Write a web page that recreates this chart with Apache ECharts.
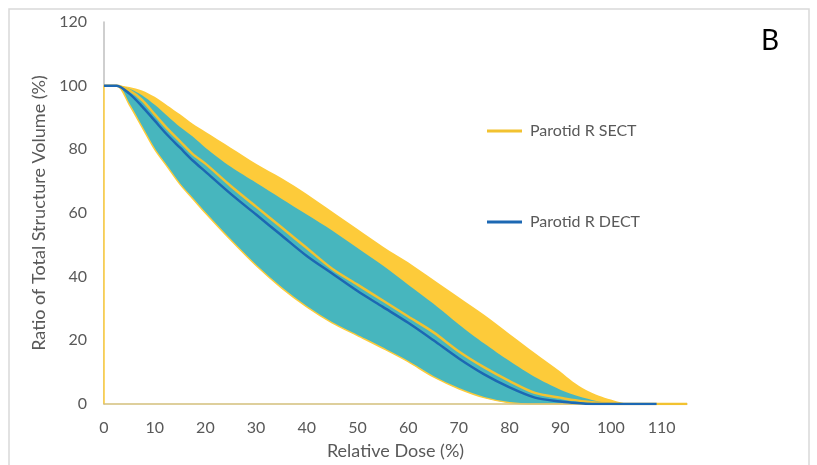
<!DOCTYPE html>
<html>
<head>
<meta charset="utf-8">
<script src="https://cdn.jsdelivr.net/npm/echarts@6/dist/echarts.min.js"></script>
<style>html,body{margin:0;padding:0;background:#fff}#c{width:817px;height:465px}</style>
</head>
<body>
<div id="c"></div>
<script>
// Relative dose (%)
const dose     = [0, 0, 2.5, 5, 7.5, 10, 12.5, 15, 17.5, 20, 25, 30, 35, 40, 45, 50, 55, 60, 65, 70, 75, 80, 85, 90, 92.5, 95, 97.5, 100, 102.5, 105, 109, 115];
// SECT band upper edge
const sectMax  = [100, 100, 100, 99.6, 98.5, 96.5, 93.8, 91, 88, 85.5, 80.5, 75.5, 71, 66, 60.5, 55, 49.5, 44.5, 39, 33.5, 28, 22, 16, 10.2, 7, 4.5, 2.7, 1.4, 0.3, 0, 0, 0];
// DECT band upper edge
const dectMax  = [100, 100, 100, 99, 97, 94, 90.5, 87, 84, 80.5, 74.5, 69.5, 64.5, 59.5, 54.5, 49, 43.5, 37.5, 31.5, 25, 19, 13.5, 8.5, 4.5, 3, 1.8, 0.8, 0.3, 0, 0, 0, 0];
// Band lower edge
const bandMin  = [0, 100, 100, 94, 87, 80, 74.5, 69, 64.5, 60, 51.5, 43.5, 36.5, 30.5, 25.5, 21.5, 17.5, 13.3, 8.5, 4.8, 2, 0.4, 0, 0, 0, 0, 0, 0, 0, 0, 0, 0];
// Mean curves
const sectMean = [100, 100, 100, 98.5, 95.5, 91, 86.5, 82.5, 78.5, 75.5, 68.5, 62, 55.5, 49, 42.5, 37.5, 32.5, 27.5, 22.5, 16.5, 11.5, 7.2, 3.5, 2, 1.3, 0.8, 0.4, 0.1, 0, 0, 0, 0];
const dectMean = [100, 100, 100, 97.5, 93.5, 89, 84.5, 80.5, 76.5, 73, 66, 59.5, 53, 46.5, 41, 35.5, 30.5, 25.5, 20, 14.3, 9.3, 5.2, 2, 0.8, 0.4, 0.1, 0, 0, 0, 0, 0, null];
const seriesNames = ['Parotid R SECT', 'Parotid R DECT'];

const pts = arr => dose.map((d, i) => [d, arr[i]]);
const YEL = '#FDCB3A', TEAL = '#47B6BE', BLUE = '#1C68B3', YLINE = '#F2C230';
const FONT = 'Lato';
const GRAY = '#595959';

const chart = echarts.init(document.getElementById('c'), null, {renderer: 'canvas'});
const legendBase = {
  orient: 'horizontal', icon: 'rect', itemWidth: 35, itemHeight: 3, padding: 0,
  selectedMode: false,
  textStyle: {color: GRAY, fontFamily: FONT, fontSize: 16, padding: [0, 0, 0, 3]}
};
chart.setOption({
  animation: false,
  backgroundColor: '#fff',
  grid: {left: 104, right: 130, top: 22, bottom: 61},
  legend: [
    Object.assign({}, legendBase, {data: [seriesNames[0]], left: 487, top: 123}),
    Object.assign({}, legendBase, {data: [seriesNames[1]], left: 487, top: 214})
  ],
  xAxis: {
    type: 'value', min: 0, max: 115, interval: 10, z: 5,
    name: 'Relative Dose (%)', nameLocation: 'middle', nameGap: 38,
    nameTextStyle: {color: GRAY, fontFamily: FONT, fontSize: 18},
    axisLine: {show: true, lineStyle: {color: '#D4C07C', width: 1.5}},
    axisTick: {show: false},
    splitLine: {show: false},
    axisLabel: {color: GRAY, fontFamily: FONT, fontSize: 16, margin: 16, showMaxLabel: false}
  },
  yAxis: {
    type: 'value', min: 0, max: 120, interval: 20,
    name: 'Ratio of Total Structure Volume (%)', nameLocation: 'middle', nameGap: 50,
    nameTextStyle: {color: GRAY, fontFamily: FONT, fontSize: 18},
    axisLine: {show: true, lineStyle: {color: '#BFBFBF', width: 1.5}},
    axisTick: {show: false},
    splitLine: {show: false},
    axisLabel: {color: GRAY, fontFamily: FONT, fontSize: 16, margin: 17}
  },
  series: [
    {name: 'SECT range', type: 'line', data: pts(sectMax), symbol: 'none', smooth: 0.3, z: 1,
     lineStyle: {width: 0}, itemStyle: {color: YEL}, areaStyle: {color: YEL, opacity: 1}},
    {name: 'DECT range', type: 'line', data: pts(dectMax), symbol: 'none', smooth: 0.3, z: 2,
     lineStyle: {width: 0}, itemStyle: {color: TEAL}, areaStyle: {color: TEAL, opacity: 1}},
    {name: 'lower', type: 'line', data: pts(bandMin), symbol: 'none', smooth: 0.3, z: 3,
     lineStyle: {width: 1.5, color: YEL}, itemStyle: {color: YEL}, areaStyle: {color: '#fff', opacity: 1}},
    {name: seriesNames[0], type: 'line', data: pts(sectMean), symbol: 'none', smooth: 0.3, z: 7,
     lineStyle: {width: 2.5, color: YLINE}, itemStyle: {color: YLINE}},
    {name: seriesNames[1], type: 'line', data: pts(dectMean), symbol: 'none', smooth: 0.3, z: 8,
     lineStyle: {width: 2.5, color: BLUE}, itemStyle: {color: BLUE}}
  ],
  graphic: [
    {type: 'rect', shape: {x: 9, y: 9, width: 800, height: 470}, silent: true,
     style: {fill: null, stroke: '#D9D9D9', lineWidth: 1.5}},
    {type: 'text', x: 761, y: 41, silent: true,
     style: {text: 'B', fill: '#000', fontFamily: FONT, fontSize: 28, verticalAlign: 'middle', align: 'left'}}
  ]
});
</script>
</body>
</html>
